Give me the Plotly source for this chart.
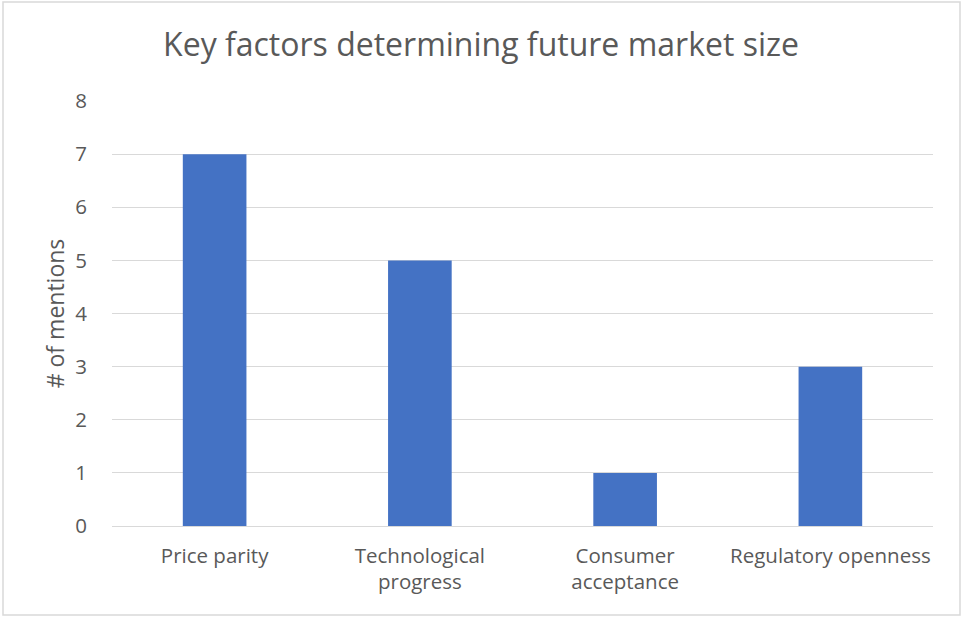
import plotly.graph_objects as go

# Survey results: how often each factor was named
factors = ["Price parity", "Technological<br>progress", "Consumer<br>acceptance", "Regulatory openness"]
mentions = [7, 5, 1, 3]
y_ticks = [0, 1, 2, 3, 4, 5, 6, 7, 8]

W, H = 962, 617
L, R, T, B = 112, 29, 101, 91
pw, ph = W - L - R, H - T - B

text_color = "#595959"
grid_color = "#d9d9d9"
font_family = "Open Sans, Noto Sans, sans-serif"

fig = go.Figure(
    go.Bar(
        x=factors,
        y=mentions,
        marker=dict(color="#4472C4", line=dict(width=0)),
        width=0.31,
    )
)

fig.update_layout(
    width=W,
    height=H,
    margin=dict(l=L, r=R, t=T, b=B),
    paper_bgcolor="white",
    plot_bgcolor="white",
    showlegend=False,
    font=dict(family=font_family, color=text_color, size=20),
    title=dict(
        text="Key factors determining future market size",
        x=0.5,
        xanchor="center",
        y=1 - 45 / H,
        yanchor="middle",
        font=dict(size=32, color=text_color, family=font_family),
    ),
    bargap=0.69,
)

fig.update_xaxes(
    showgrid=False,
    showline=False,
    ticks="",
    ticklabelstandoff=15,
    tickfont=dict(size=20.5, color=text_color),
)

fig.update_yaxes(
    range=[0, 8],
    tickvals=y_ticks,
    showgrid=True,
    gridcolor=grid_color,
    gridwidth=1,
    zeroline=True,
    zerolinecolor=grid_color,
    zerolinewidth=1,
    showline=False,
    ticks="",
    ticklen=0,
    ticklabelstandoff=24,
    tickfont=dict(size=20.5, color=text_color),
    title=dict(text="# of mentions", font=dict(size=23, color=text_color), standoff=4),
)

# Thin frame around the whole chart area
fig.add_shape(
    type="rect",
    xref="paper",
    yref="paper",
    x0=(3 - L) / pw,
    x1=(960 - L) / pw,
    y0=(H - B - 615) / ph,
    y1=(H - B - 2) / ph,
    line=dict(color=grid_color, width=1.5),
    fillcolor="rgba(0,0,0,0)",
    layer="below",
)

fig.write_html("out.html")
